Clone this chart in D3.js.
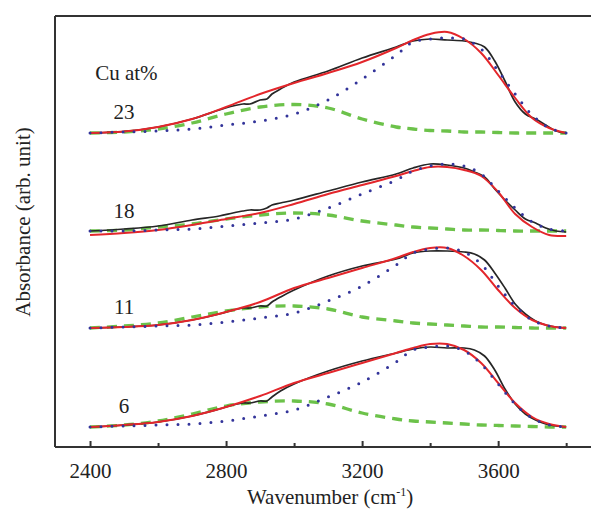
<!DOCTYPE html>
<html>
<head>
<meta charset="utf-8">
<script src="https://cdn.jsdelivr.net/npm/d3@7"></script>
<style>
  body { margin: 0; background: #fff; }
</style>
</head>
<body>
<div id="chart"></div>
<script>
// chart size
const width = 591;
const height = 510;
const margin = { top: 16, left: 55, bottom: 63, right: 0 };
const serif = "'Liberation Serif', 'DejaVu Serif', 'Times New Roman', serif";

// wavenumber grid for the fitted curves (cm-1)
const fitWavenumbers = [2400, 2500, 2600, 2700, 2800, 2900, 3000, 3100, 3200, 3300, 3350, 3400, 3450, 3500, 3550, 3600, 3650, 3700, 3750, 3800];
// wavenumber grid for the measured spectra
const measWavenumbers = [2400, 2500, 2600, 2700, 2780, 2820, 2850, 2870, 2900, 2920, 2935, 2960, 3000, 3100, 3200, 3300, 3350, 3400, 3450, 3500, 3530, 3560, 3590, 3620, 3650, 3680, 3710, 3740, 3770, 3800];

// sample labels (Cu at%) and their vertical offsets
const samples = ["23", "18", "11", "6"];
const offsets = [294, 195, 99, 0];

// measured spectra (black)
const measured = [
  [0, 1.5, 6, 14, 23, 27, 29, 29, 33, 34, 39, 44, 51, 62, 75, 86, 92, 94, 93, 92, 90, 86, 72, 52, 31, 19, 14, 8, 2, 0],
  [1, 3, 6, 12, 16, 19, 21, 22, 22, 24, 27, 29, 32, 41, 50, 58, 64, 68, 67, 64, 60, 55, 43, 32, 22, 13, 9, 4, 1, 0],
  [0, 1, 3, 8, 14, 18, 20, 20, 22, 22, 26, 31, 38, 52, 62, 69, 75, 77, 77, 76, 74, 68, 55, 40, 24, 14, 7, 3, 1, 0],
  [0, 2, 5, 11, 18, 22, 24, 24, 26, 26, 30, 36, 43, 56, 66, 74, 78, 80, 79, 79, 77, 71, 57, 38, 23, 13, 7, 3, 1, 0]
];

// total fit (red)
const fitTotal = [
  [0, 1.5, 6, 14, 26, 39, 50, 60, 71, 85, 93, 99, 101, 94, 80, 58, 35, 15, 5, 0],
  [-3, -1, 2, 7, 13, 19, 28, 38, 47, 56, 61, 65, 65, 62, 56, 40, 18, 5, -3, -4],
  [0, 1, 3, 8, 16, 26, 40, 50, 60, 70, 76, 80, 80, 72, 58, 38, 20, 8, 2, 0],
  [0, 2, 5, 11, 20, 31, 44, 54, 64, 74, 79, 83, 83, 77, 64, 44, 24, 10, 3, 0]
];

// high-wavenumber component (blue dotted)
const peakHigh = [
  [0, 1, 2, 4, 8, 12, 19, 33, 54, 78, 91, 94, 95, 94, 84, 62, 39, 18, 5, 0],
  [1, 1, 2, 3, 6, 9, 13, 24, 38, 52, 61, 66, 68, 66, 58, 41, 24, 10, 3, 1],
  [0, 1, 2, 3, 6, 10, 15, 27, 42, 63, 75, 79, 80, 76, 64, 42, 22, 8, 2, 0],
  [0, 1, 2, 3, 6, 11, 17, 30, 45, 65, 77, 80, 81, 76, 63, 43, 23, 9, 2, 0]
];

// low-wavenumber component (green dashed)
const peakLow = [
  [0, 1, 4, 10, 19, 26, 28.5, 25, 14, 6, 4, 2.5, 2, 1, 1, 0.5, 0, 0, 0, 0],
  [1, 2, 5, 8, 13, 17, 19, 17, 11, 7, 5, 4, 3, 2, 2, 1.5, 1, 1, 1, 1],
  [0, 2, 5, 11, 17, 21, 22, 19, 11, 7, 5, 4, 3, 2, 1, 1, 0.5, 0, 0, 0],
  [0, 2, 6, 13, 21, 25, 26, 23, 14, 8, 6, 5, 4, 3, 2, 1.5, 1, 0.5, 0, 0]
];

const majorTicks = [2400, 2800, 3200, 3600];
const allTicks = [2400, 2600, 2800, 3000, 3200, 3400, 3600, 3800];

const svg = d3.select("#chart")
  .append("svg")
  .attr("width", width)
  .attr("height", height);

const x = d3.scaleLinear()
  .domain([2297, 3873])
  .range([margin.left, width - margin.right]);

const y = d3.scaleLinear()
  .domain([-20, 411])
  .range([height - margin.bottom, margin.top]);

// frame: left, top and bottom lines
svg.append("line")
  .attr("x1", margin.left).attr("x2", margin.left)
  .attr("y1", margin.top).attr("y2", height - margin.bottom)
  .attr("stroke", "#333").attr("stroke-width", 2);
svg.append("line")
  .attr("x1", margin.left).attr("x2", width)
  .attr("y1", margin.top).attr("y2", margin.top)
  .attr("stroke", "#333").attr("stroke-width", 2);

// bottom axis with inward ticks
const xAxis = d3.axisBottom(x)
  .tickValues(allTicks)
  .tickSizeInner(-6)
  .tickSizeOuter(0)
  .tickPadding(16)
  .tickFormat(function(d) { return majorTicks.includes(d) ? d : ""; });

const gx = svg.append("g")
  .attr("transform", "translate(0," + (height - margin.bottom) + ")")
  .call(xAxis)
  .attr("font-family", serif)
  .attr("font-size", 21);
gx.select(".domain").attr("stroke", "#333").attr("stroke-width", 2)
  .attr("d", "M" + margin.left + ",0H" + width);
gx.selectAll(".tick line").attr("stroke", "#333").attr("stroke-width", 2)
  .attr("y2", function(d) { return majorTicks.includes(d) ? -6 : -4; });
gx.selectAll(".tick text")
  .attr("fill", "#222");

// axis titles
const xTitle = svg.append("text")
  .attr("x", (x(2400) + x(3800)) / 2 + 2)
  .attr("y", 504)
  .attr("text-anchor", "middle")
  .attr("font-family", serif)
  .attr("font-size", 21)
  .attr("fill", "#222");
xTitle.append("tspan").text("Wavenumber (cm");
xTitle.append("tspan").attr("dy", -8).attr("font-size", 12).text("-1");
xTitle.append("tspan").attr("dy", 8).text(")");

svg.append("text")
  .attr("transform", "translate(30," + 222 + ") rotate(-90)")
  .attr("text-anchor", "middle")
  .attr("font-family", serif)
  .attr("font-size", 21)
  .attr("fill", "#222")
  .text("Absorbance (arb. unit)");

// line generators
function lineFor(wavenumbers, offset) {
  return d3.line()
    .x(function(d, i) { return x(wavenumbers[i]); })
    .y(function(d) { return y(d + offset); })
    .curve(d3.curveCatmullRom.alpha(0.5));
}

const curves = svg.append("g").attr("fill", "none");

samples.forEach(function(sample, s) {
  const g = curves.append("g").attr("id", "sample-" + sample);

  // green dashed low component
  g.append("path")
    .attr("d", lineFor(fitWavenumbers, offsets[s])(peakLow[s]))
    .attr("stroke", "#6cc24a")
    .attr("stroke-width", 3.3)
    .attr("stroke-dasharray", "10 7");

  // measured spectrum
  g.append("path")
    .attr("d", lineFor(measWavenumbers, offsets[s])(measured[s]))
    .attr("stroke", "#262626")
    .attr("stroke-width", 1.7);

  // total fit
  g.append("path")
    .attr("d", lineFor(fitWavenumbers, offsets[s])(fitTotal[s]))
    .attr("stroke", "#e3262b")
    .attr("stroke-width", 2);

  // blue dotted high component
  g.append("path")
    .attr("d", lineFor(fitWavenumbers, offsets[s])(peakHigh[s]))
    .attr("stroke", "#33349a")
    .attr("stroke-width", 3)
    .attr("stroke-linecap", "round")
    .attr("stroke-dasharray", "0 11");

  // sample label
  svg.append("text")
    .attr("x", x(2500))
    .attr("y", y(offsets[s] + 14))
    .attr("text-anchor", "middle")
    .attr("font-family", serif)
    .attr("font-size", 21)
    .attr("fill", "#222")
    .text(sample);
});

svg.append("text")
  .attr("x", x(2415))
  .attr("y", 80)
  .attr("font-family", serif)
  .attr("font-size", 21)
  .attr("fill", "#222")
  .text("Cu at%");
</script>
</body>
</html>
